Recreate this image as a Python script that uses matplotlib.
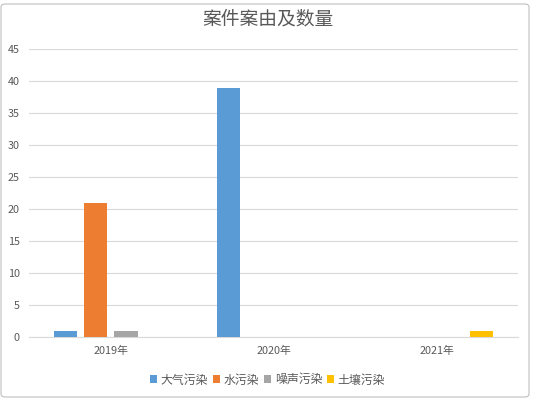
import matplotlib
matplotlib.use("Agg")
import matplotlib.pyplot as plt
import numpy as np
from matplotlib.patches import FancyBboxPatch

plt.rcParams['font.family'] = ['Noto Sans CJK SC', 'DejaVu Sans']

categories = ['2019年', '2020年', '2021年']
series_names = ['大气污染', '水污染', '噪声污染', '土壤污染']
air = [1, 39, 0]
water = [21, 0, 0]
noise = [1, 0, 0]
soil = [0, 0, 1]
colors = ['#5B9BD5', '#ED7D31', '#A5A5A5', '#FFC000']
yticks = [0, 5, 10, 15, 20, 25, 30, 35, 40, 45]

fig = plt.figure(figsize=(5.35, 3.98), dpi=100)
ax = fig.add_axes([0.0551, 0.1525, 0.913, 0.7236])

x = np.arange(len(categories))
step = 0.185
width = 0.143
all_series = [air, water, noise, soil]
handles = []
for i, (vals, name, c) in enumerate(zip(all_series, series_names, colors)):
    h = ax.bar(x + (i - 1.5) * step, vals, width, color=c, label=name, zorder=3)
    handles.append(h)

ax.set_xlim(-0.5, 2.5)
ax.set_ylim(0, 45)
ax.set_yticks(yticks)
ax.set_xticks(x)
ax.set_xticklabels(categories)
ax.grid(axis='y', color='#D9D9D9', linewidth=0.8, zorder=0)
for s in ['top', 'right', 'left']:
    ax.spines[s].set_visible(False)
ax.spines['bottom'].set_color('#D9D9D9')
ax.spines['bottom'].set_linewidth(0.8)
ax.tick_params(axis='both', length=0, labelsize=7.8, labelcolor='#595959')
ax.tick_params(axis='x', pad=6)
ax.tick_params(axis='y', pad=7)

fig.text(0.5, 1 - 19 / 398, '案件案由及数量', ha='center', va='center',
         fontsize=13.5, color='#595959', fontweight='medium')

leg = fig.legend(handles=handles, labels=series_names, loc='center',
                 bbox_to_anchor=(0.5, 1 - 380 / 398), ncol=4, frameon=False,
                 fontsize=8.6, handlelength=0.6, handleheight=0.6,
                 handletextpad=0.3, columnspacing=0.4)
for t in leg.get_texts():
    t.set_color('#595959')

# chart frame
border = FancyBboxPatch((1 / 535, 1 / 398), 528 / 535, 393 / 398,
                        boxstyle='round,pad=0,rounding_size=0.008',
                        transform=fig.transFigure, fill=False,
                        edgecolor='#BFBFBF', linewidth=0.8)
fig.patches.append(border)

fig.savefig('out.png', dpi=100)
